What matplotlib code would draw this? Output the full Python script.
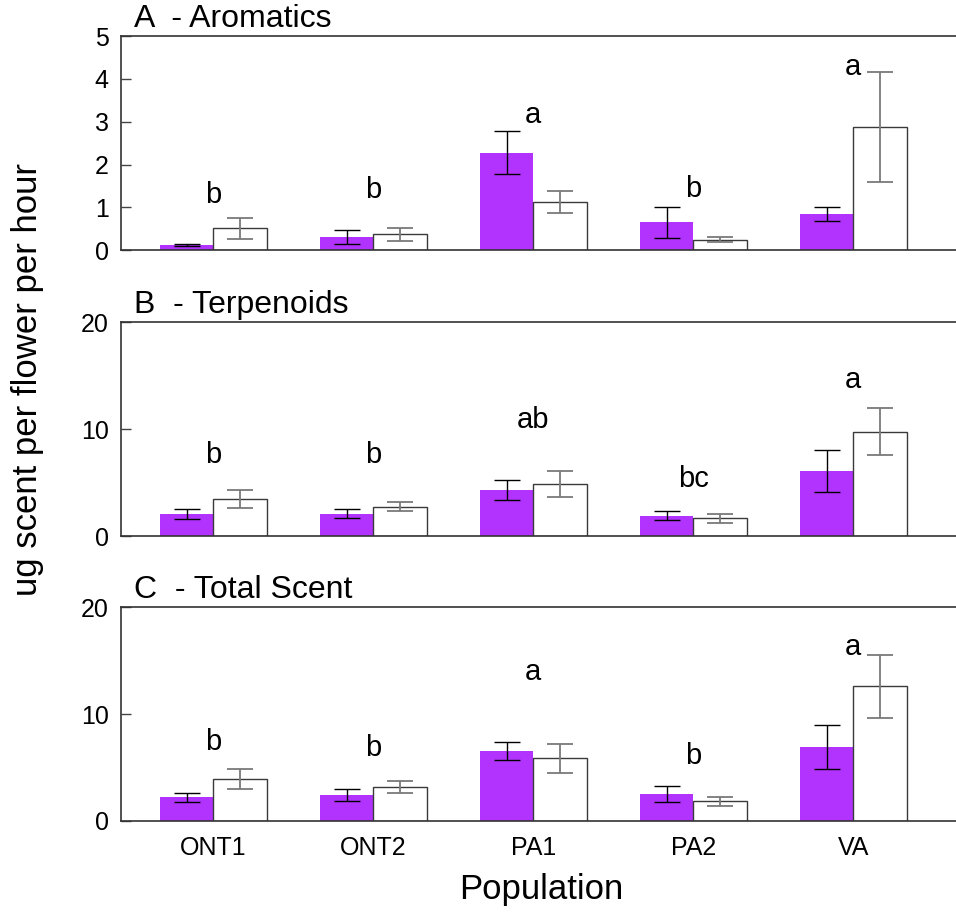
import numpy as np
import matplotlib
matplotlib.use('Agg')
import matplotlib.pyplot as plt

plt.rcParams['font.family'] = ['Liberation Sans', 'DejaVu Sans']

populations = ['ONT1', 'ONT2', 'PA1', 'PA2', 'VA']

# A - Aromatics
arom_purple = [0.12, 0.31, 2.28, 0.65, 0.85]
arom_purple_err = [0.03, 0.17, 0.51, 0.36, 0.17]
arom_white = [0.51, 0.37, 1.12, 0.25, 2.87]
arom_white_err = [0.25, 0.16, 0.26, 0.06, 1.28]
arom_letters = ['b', 'b', 'a', 'b', 'a']
arom_letter_y = [1.29, 1.40, 3.15, 1.43, 4.28]

# B - Terpenoids
terp_purple = [2.11, 2.11, 4.30, 1.93, 6.10]
terp_purple_err = [0.45, 0.40, 0.95, 0.42, 1.95]
terp_white = [3.46, 2.77, 4.86, 1.68, 9.78]
terp_white_err = [0.84, 0.42, 1.20, 0.42, 2.18]
terp_letters = ['b', 'b', 'ab', 'bc', 'a']
terp_letter_y = [7.6, 7.6, 10.9, 5.36, 14.6]

# C - Total Scent
total_purple = [2.22, 2.40, 6.55, 2.53, 6.90]
total_purple_err = [0.42, 0.55, 0.80, 0.75, 2.07]
total_white = [3.96, 3.15, 5.87, 1.84, 12.61]
total_white_err = [0.92, 0.55, 1.35, 0.45, 2.96]
total_letters = ['b', 'b', 'a', 'b', 'a']
total_letter_y = [7.42, 6.86, 13.9, 6.1, 16.3]

panels = [
    ('A  - Aromatics', arom_purple, arom_purple_err, arom_white, arom_white_err,
     arom_letters, arom_letter_y, 5, [0, 1, 2, 3, 4, 5]),
    ('B  - Terpenoids', terp_purple, terp_purple_err, terp_white, terp_white_err,
     terp_letters, terp_letter_y, 20, [0, 10, 20]),
    ('C  - Total Scent', total_purple, total_purple_err, total_white, total_white_err,
     total_letters, total_letter_y, 20, [0, 10, 20]),
]

W, H = 956, 915
fig = plt.figure(figsize=(W / 100, H / 100), dpi=100)

# axes boxes in pixels: (top, bottom)
boxes = [(36, 250.3), (322.3, 536.3), (607.3, 821)]
left_px = 121

purple = '#b233fe'
x = np.arange(len(populations))
bw = 1 / 3

for k, (title, pv, pe, wv, we, letters, ly, ymax, yticks) in enumerate(panels):
    top, bot = boxes[k]
    ax = fig.add_axes([left_px / W, 1 - bot / H, (W - left_px) / W, (bot - top) / H])
    ax.bar(x - bw / 2, pv, width=bw, color=purple, edgecolor='none')
    ax.bar(x + bw / 2, wv, width=bw, color='white', edgecolor='#3a3a3a', linewidth=1.0)
    ax.errorbar(x - bw / 2, pv, yerr=pe, fmt='none', ecolor='black',
                elinewidth=1.0, capsize=9.6, capthick=1.0)
    ax.errorbar(x + bw / 2, wv, yerr=we, fmt='none', ecolor='#7a7a7a',
                elinewidth=1.3, capsize=9.6, capthick=1.3)
    for i, (lab, yy) in enumerate(zip(letters, ly)):
        ax.text(x[i], yy, lab, ha='center', va='center', fontsize=21)

    ax.set_xlim(-0.577, 4.642)
    ax.set_ylim(0, ymax)
    ax.set_yticks(yticks)
    ax.tick_params(axis='y', direction='in', length=7, width=1, pad=9,
                   labelsize=18, color='#444444')
    ax.tick_params(axis='x', length=0, pad=11, labelsize=18)
    ax.set_xticks(x)
    if k == 2:
        ax.set_xticklabels(populations)
    else:
        ax.set_xticklabels([])
    ax.spines['right'].set_visible(False)
    for s in ['left', 'bottom', 'top']:
        ax.spines[s].set_color('#333333')
        ax.spines[s].set_linewidth(1.2)
    ax.text(13 / (W - left_px), 1.01, title, transform=ax.transAxes,
            ha='left', va='bottom', fontsize=23)

fig.text(28 / W, 1 - 379 / H, 'ug scent per flower per hour', rotation=90,
         ha='center', va='center', fontsize=25)
fig.text(541 / W, 1 - 890 / H, 'Population', ha='center', va='center', fontsize=25)

fig.savefig('out.png', dpi=100)
